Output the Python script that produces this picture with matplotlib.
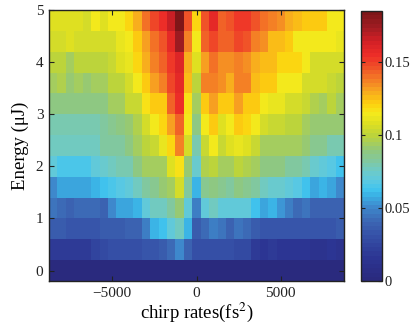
import numpy as np
import matplotlib
matplotlib.use("Agg")
import matplotlib.pyplot as plt
from matplotlib.colors import LinearSegmentedColormap

plt.rcParams["font.family"] = ["Liberation Serif", "DejaVu Serif"]
plt.rcParams["mathtext.fontset"] = "stix"

# chirp rate (fs^2) column centres and pulse energy (uJ) row centres
chirp_rates = np.arange(-8500, 8501, 500)
energies = [0.0, 0.4, 0.8, 1.2, 1.6, 2.0, 2.4, 2.8, 3.2, 3.6, 4.0, 4.4, 4.8]

# signal per energy row, bottom (0 uJ) to top (4.8 uJ)
e00 = [0.002, 0.002, 0.002, 0.002, 0.002, 0.002, 0.002, 0.002, 0.002, 0.002, 0.002, 0.002,
       0.002, 0.002, 0.002, 0.002, 0.002, 0.002, 0.002, 0.002, 0.002, 0.002, 0.002, 0.002,
       0.002, 0.002, 0.002, 0.002, 0.002, 0.002, 0.002, 0.002, 0.002, 0.002, 0.002]
e04 = [0.020, 0.020, 0.020, 0.020, 0.020, 0.026, 0.028, 0.030, 0.030, 0.030, 0.031, 0.032,
       0.032, 0.035, 0.043, 0.050, 0.040, 0.030, 0.030, 0.030, 0.030, 0.030, 0.027, 0.027,
       0.020, 0.016, 0.020, 0.016, 0.016, 0.016, 0.016, 0.012, 0.012, 0.016, 0.012]
e08 = [0.035, 0.035, 0.034, 0.034, 0.034, 0.034, 0.035, 0.035, 0.037, 0.040, 0.040, 0.048,
       0.060, 0.062, 0.070, 0.077, 0.060, 0.036, 0.043, 0.048, 0.044, 0.040, 0.044, 0.043,
       0.035, 0.032, 0.032, 0.032, 0.032, 0.032, 0.032, 0.032, 0.032, 0.032, 0.035]
e12 = [0.045, 0.043, 0.040, 0.043, 0.043, 0.043, 0.040, 0.050, 0.055, 0.055, 0.060, 0.072,
       0.077, 0.078, 0.082, 0.092, 0.072, 0.048, 0.072, 0.077, 0.072, 0.070, 0.070, 0.070,
       0.062, 0.055, 0.060, 0.054, 0.048, 0.043, 0.045, 0.038, 0.040, 0.040, 0.038]
e16 = [0.052, 0.056, 0.056, 0.056, 0.056, 0.058, 0.062, 0.065, 0.068, 0.072, 0.078, 0.082,
       0.086, 0.090, 0.095, 0.105, 0.082, 0.058, 0.086, 0.089, 0.086, 0.082, 0.089, 0.086,
       0.082, 0.078, 0.075, 0.075, 0.070, 0.067, 0.062, 0.055, 0.058, 0.055, 0.052]
e20 = [0.070, 0.066, 0.066, 0.066, 0.066, 0.072, 0.075, 0.078, 0.080, 0.080, 0.087, 0.093,
       0.095, 0.095, 0.108, 0.116, 0.090, 0.074, 0.097, 0.100, 0.095, 0.095, 0.100, 0.097,
       0.093, 0.088, 0.088, 0.087, 0.082, 0.082, 0.080, 0.074, 0.072, 0.068, 0.062]
e24 = [0.077, 0.077, 0.077, 0.077, 0.077, 0.077, 0.082, 0.082, 0.082, 0.087, 0.093, 0.100,
       0.104, 0.110, 0.120, 0.136, 0.106, 0.080, 0.104, 0.115, 0.104, 0.108, 0.110, 0.108,
       0.104, 0.095, 0.095, 0.095, 0.093, 0.093, 0.090, 0.085, 0.085, 0.080, 0.080]
e28 = [0.080, 0.080, 0.080, 0.080, 0.080, 0.080, 0.082, 0.085, 0.089, 0.092, 0.096, 0.106,
       0.115, 0.121, 0.132, 0.142, 0.113, 0.087, 0.115, 0.124, 0.108, 0.115, 0.124, 0.120,
       0.113, 0.105, 0.104, 0.104, 0.100, 0.100, 0.095, 0.090, 0.090, 0.090, 0.090]
e32 = [0.088, 0.089, 0.089, 0.089, 0.089, 0.089, 0.089, 0.093, 0.095, 0.102, 0.103, 0.116,
       0.124, 0.124, 0.142, 0.156, 0.118, 0.095, 0.124, 0.132, 0.122, 0.122, 0.132, 0.124,
       0.122, 0.114, 0.110, 0.110, 0.106, 0.106, 0.103, 0.098, 0.095, 0.100, 0.095]
e36 = [0.095, 0.096, 0.092, 0.095, 0.092, 0.095, 0.095, 0.100, 0.100, 0.106, 0.115, 0.122,
       0.132, 0.136, 0.148, 0.158, 0.126, 0.100, 0.136, 0.136, 0.133, 0.130, 0.136, 0.136,
       0.127, 0.122, 0.122, 0.115, 0.115, 0.115, 0.106, 0.105, 0.105, 0.103, 0.100]
e40 = [0.100, 0.099, 0.095, 0.100, 0.100, 0.100, 0.100, 0.104, 0.108, 0.112, 0.121, 0.130,
       0.138, 0.142, 0.152, 0.160, 0.130, 0.108, 0.132, 0.140, 0.134, 0.134, 0.138, 0.134,
       0.130, 0.127, 0.127, 0.121, 0.119, 0.119, 0.114, 0.106, 0.105, 0.105, 0.105]
e44 = [0.106, 0.106, 0.108, 0.105, 0.105, 0.105, 0.105, 0.105, 0.112, 0.114, 0.124, 0.132,
       0.140, 0.147, 0.158, 0.175, 0.138, 0.114, 0.142, 0.148, 0.142, 0.142, 0.150, 0.147,
       0.137, 0.133, 0.127, 0.127, 0.124, 0.115, 0.115, 0.115, 0.115, 0.113, 0.110]
e48 = [0.108, 0.108, 0.108, 0.108, 0.106, 0.113, 0.108, 0.115, 0.115, 0.121, 0.128, 0.140,
       0.148, 0.155, 0.165, 0.185, 0.145, 0.120, 0.145, 0.158, 0.142, 0.145, 0.152, 0.152,
       0.147, 0.140, 0.137, 0.133, 0.130, 0.127, 0.124, 0.122, 0.122, 0.115, 0.115]

signal = np.array([e00, e04, e08, e12, e16, e20, e24, e28, e32, e36, e40, e44, e48])

# colour map sampled from the colour bar
cmap_nodes = [
    (0.000, "#2A2A7E"), (0.015, "#2C3593"), (0.030, "#3550A7"), (0.040, "#3C66B3"),
    (0.050, "#3E88CC"), (0.058, "#3AB0E4"), (0.062, "#40C4EE"), (0.068, "#5AC8E2"),
    (0.075, "#6ECBC8"), (0.082, "#80C8A0"), (0.090, "#93C878"), (0.100, "#BDD43A"),
    (0.108, "#DDDF22"), (0.115, "#F5EA1C"), (0.122, "#FDD00E"), (0.130, "#F8AA1F"),
    (0.138, "#F48025"), (0.147, "#F05228"), (0.155, "#EE2E28"), (0.165, "#D42026"),
    (0.175, "#A01C22"), (0.185, "#7E1618"),
]
vmax = cmap_nodes[-1][0]
cmap = LinearSegmentedColormap.from_list(
    "bar", [(v / vmax, c) for v, c in cmap_nodes], N=64)

x = np.asarray(chirp_rates, dtype=float)
y = np.asarray(energies)
dx = x[1] - x[0]
dy = y[1] - y[0]
x_edges = np.append(x - dx / 2, x[-1] + dx / 2)
y_edges = np.append(y - dy / 2, y[-1] + dy / 2)

fig = plt.figure(figsize=(4.15, 3.28), dpi=100)
ax = fig.add_axes([49 / 415, 47 / 328, 295 / 415, 271 / 328])
mesh = ax.pcolormesh(x_edges, y_edges, signal, cmap=cmap, vmin=0, vmax=vmax)
ax.set_xlim(x_edges[0], x_edges[-1])
ax.set_ylim(y_edges[0], 5)
ax.set_xticks([-5000, 0, 5000])
ax.set_xticklabels(["\u22125000", "0", "5000"])
ax.set_yticks([0, 1, 2, 3, 4, 5])
ax.tick_params(direction="in", top=True, right=True, length=3.5, width=0.8,
               labelsize=11, colors="#222222", pad=4)
for s in ax.spines.values():
    s.set_linewidth(1.0)
    s.set_color("#222222")
ax.set_xlabel("chirp rates(fs$^2$)", fontsize=13.5, labelpad=1)
ax.set_ylabel("Energy (\u03bcJ)", fontsize=13.5, labelpad=5)

cax = fig.add_axes([361 / 415, 47 / 328, 21 / 415, 270 / 328])
cb = fig.colorbar(mesh, cax=cax)
cb.set_ticks([0, 0.05, 0.1, 0.15])
cb.set_ticklabels(["0", "0.05", "0.1", "0.15"])
cb.ax.tick_params(direction="in", left=True, right=True, length=3, width=0.8,
                  labelsize=10.5, colors="#222222", pad=2)
cb.outline.set_linewidth(1.0)
cb.outline.set_edgecolor("#222222")

fig.savefig("out.png", dpi=100)
